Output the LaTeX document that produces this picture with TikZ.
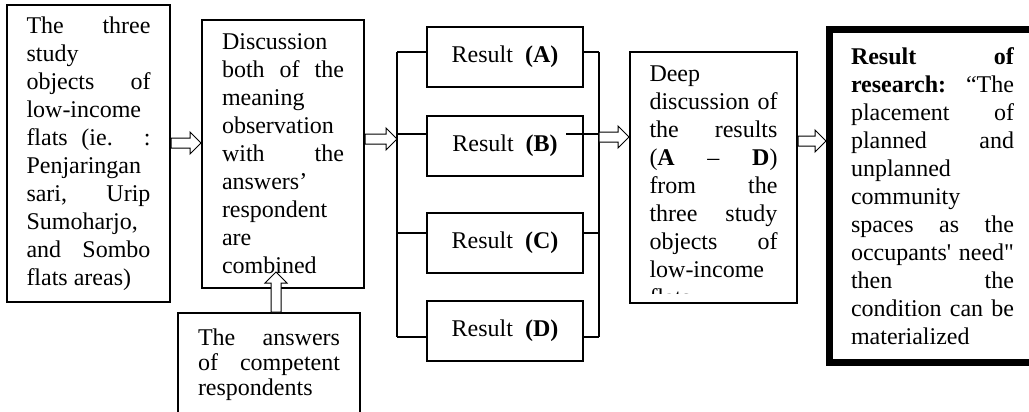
\documentclass[tikz,border=0pt]{standalone}
\usepackage{fontspec}
\setmainfont{Liberation Serif}
\usepackage{tikz}
\usetikzlibrary{calc,positioning}
\hyphenpenalty=10000
\exhyphenpenalty=10000
\tolerance=10000
\hbadness=10000

\tikzset{
  box/.style={draw, line width=1pt, inner xsep=0pt, align=justify,
    font=\fontsize{12}{14}\selectfont},
  result/.style={draw, line width=1pt, minimum width=78pt, minimum height=30pt,
    font=\fontsize{12}{14}\selectfont},
  link/.style={line width=1pt},
  hollow/.style={draw, fill=white, line width=0.5pt, to path={
    let \p1=(\tikztostart), \p2=(\tikztotarget),
        \n1={atan2(\y2-\y1,\x2-\x1)}, \n2={veclen(\x2-\x1,\y2-\y1)} in
    {[shift={(\p1)}, rotate=\n1]
      (0pt,2.5pt) -- (\n2-5.5pt,2.5pt) -- (\n2-5.5pt,5.5pt) -- (\n2,0pt)
      -- (\n2-5.5pt,-5.5pt) -- (\n2-5.5pt,-2.5pt) -- (0pt,-2.5pt) -- cycle}}}
}

\begin{document}
\begin{tikzpicture}[x = 0.5pt, y = -0.5pt]
\useasboundingbox (0,0) rectangle (1029,412);
\clip (0,0) rectangle (1029,412);

% the two input boxes
\node[box, text width=62pt, minimum width=81.5pt, minimum height=148.5pt] (obj) at (88.5,153.5)
  {The three\linebreak study\linebreak objects of\linebreak low-income\linebreak flats (ie. :\linebreak
   Penjaringan\linebreak sari, Urip\linebreak Sumoharjo,\linebreak and Sombo\linebreak flats areas)};
\node[box, text width=61pt, minimum width=81pt, minimum height=134pt] (disc) at (283,154)
  {Discussion\linebreak both of the\linebreak meaning\linebreak observation\linebreak with the\linebreak
   answers'\linebreak respondent\linebreak are\linebreak combined};
\node[box, text width=71pt, minimum width=91pt, inner ysep=8pt, text depth=40pt,
  font=\fontsize{12}{12.5}\selectfont, anchor=north] (ans) at (269,312)
  {The answers\linebreak of competent\linebreak respondents};

% results
\node[result] (resA) at (505,57) {Result \ \textbf{(A)}};
\node[result] (resB) at (505,145.5) {Result \ \textbf{(B)}};
\node[result] (resC) at (505,242.5) {Result \ \textbf{(C)}};
\node[result] (resD) at (505,330.5) {Result \ \textbf{(D)}};

\coordinate (busL) at (397,0);
\coordinate (busR) at (599,0);
\coordinate (rowA) at (0,52);
\coordinate (rowB) at (0,134);
\coordinate (rowC) at (0,233);
\coordinate (rowD) at (0,337);

\draw[link] (busL |- rowA) -- (busL |- rowD);
\draw[link] (busR |- rowA) -- (busR |- rowD);
\draw[link] (busL |- rowA) -- (resA.west |- rowA);
\draw[link] (busL |- rowB) -- (resB.west |- rowB);
\draw[link] (busL |- rowC) -- (resC.west |- rowC);
\draw[link] (busL |- rowD) -- (resD.west |- rowD);
\draw[link] (resA.east |- rowA) -- (busR |- rowA);
\draw[link] ($(resB.east |- rowB)+(-18,0)$) -- (busR |- rowB);
\draw[link] (resC.east |- rowC) -- (busR |- rowC);
\draw[link] (resD.east |- rowD) -- (busR |- rowD);

% deep discussion, text cut at the bottom
\node[draw, line width=1pt, minimum width=83.5pt, minimum height=125.5pt] (deep) at (713.5,177.5) {};
\begin{scope}
\clip (630,52) rectangle (797,293);
\node[box, draw=none, text width=64pt, inner ysep=7pt, anchor=north] (deeptext) at (deep.north)
  {Deep\linebreak discussion of\linebreak the results\linebreak (\textbf{A} -- \textbf{D})\linebreak
   from the\linebreak three study\linebreak objects of\linebreak low-income\linebreak flats};
\end{scope}

% final result
\node[box, line width=3.5pt, text width=81.5pt, minimum width=103pt, minimum height=166.5pt] (final) at (932.5,196)
  {\textbf{Result of}\linebreak \textbf{research:} ``The\linebreak placement of\linebreak planned and\linebreak
   unplanned\linebreak community\linebreak spaces as the\linebreak occupants\textquotesingle{} need\textquotedbl\linebreak
   then the\linebreak condition can be\linebreak materialized};

% arrows
\coordinate (a1) at (0,143);
\coordinate (a2) at (0,139);
\coordinate (a3) at (0,137);
\coordinate (a4) at (0,141);
\coordinate (tip) at (276,272);
\draw[hollow] (obj.east |- a1) to (disc.west |- a1);
\draw[hollow] (disc.east |- a2) to (busL |- a2);
\draw[hollow] (busR |- a3) to (deep.west |- a3);
\draw[hollow] (deep.east |- a4) to (final.west |- a4);
\draw[hollow] (ans.north -| tip) to (tip);
\end{tikzpicture}
\end{document}
